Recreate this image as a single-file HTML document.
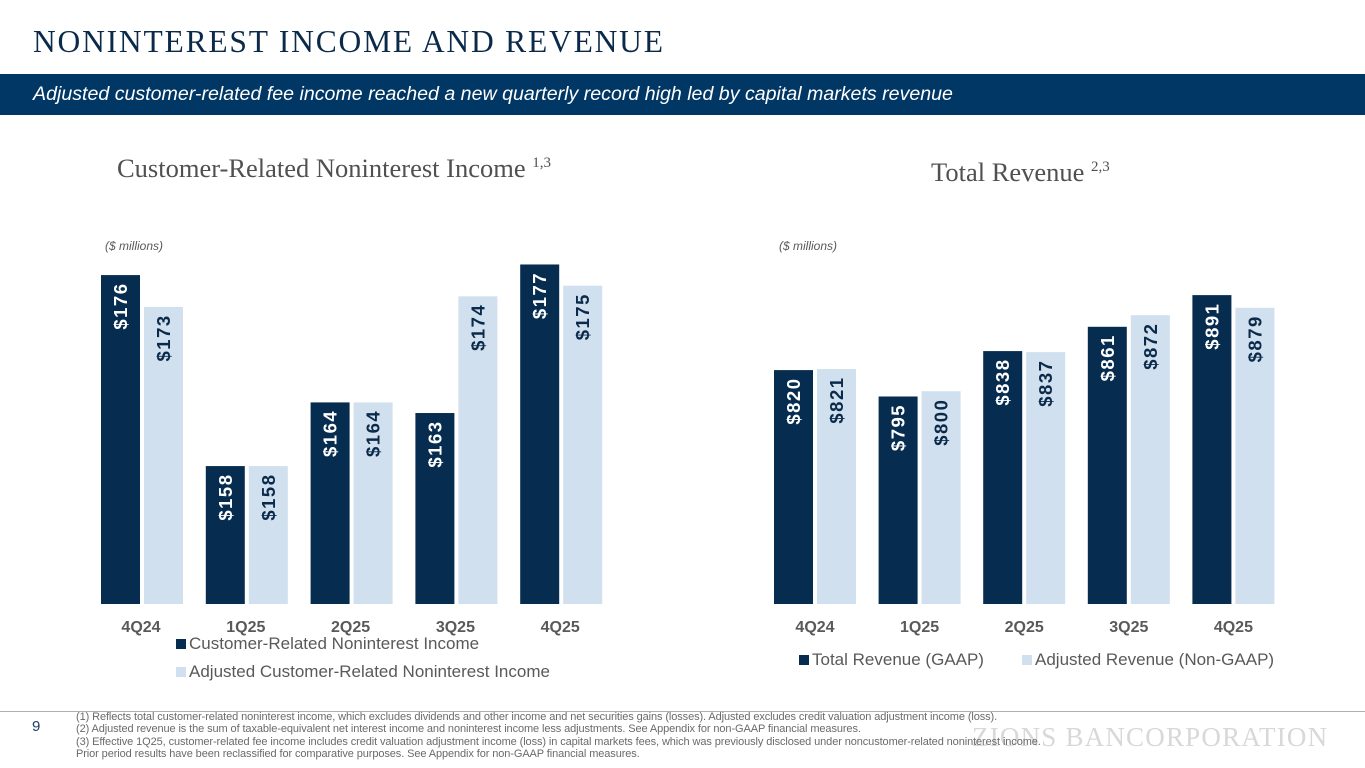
<!DOCTYPE html>
<html><head><meta charset="utf-8"><style>
body{margin:0;width:1365px;height:768px;overflow:hidden;background:#fff;font-family:"Liberation Sans",Arial,sans-serif;position:relative}
.abs{position:absolute}
#title{left:33px;top:24px;font-family:"Liberation Serif",serif;font-size:31.5px;color:#0b2a4a;letter-spacing:1.8px;white-space:nowrap}
#banner{left:0;top:74px;width:1365px;height:41px;background:#003764}
#banner span{position:absolute;left:33px;top:9px;color:#fff;font-style:italic;font-size:19.6px;white-space:nowrap}
.ct{font-family:"Liberation Serif",serif;font-size:26.5px;color:#505050;white-space:nowrap}
.ct sup{font-size:15px}
.unit{font-style:italic;font-size:12px;color:#595959}
#foot{left:0;top:711px;width:1365px;height:1px;background:#b0b0b0}
#pg{left:32px;top:718px;font-size:15px;color:#1f3d66}
#notes{left:76px;top:711px;font-size:11px;color:#6a6a6a;line-height:12.4px;white-space:nowrap;letter-spacing:-0.1px}
#logo{left:972px;top:722px;font-family:"Liberation Serif",serif;font-size:27px;color:#d8d8d8;letter-spacing:1.2px;white-space:nowrap}
svg{position:absolute;left:0;top:0}
</style></head><body>
<div id="title" class="abs">NONINTEREST INCOME AND REVENUE</div>
<div id="banner" class="abs"><span>Adjusted customer-related fee income reached a new quarterly record high led by capital markets revenue</span></div>
<div class="abs ct" style="left:117px;top:153px">Customer-Related Noninterest Income <sup>1,3</sup></div>
<div class="abs ct" style="left:931px;top:157px">Total Revenue <sup>2,3</sup></div>
<div class="abs unit" style="left:105px;top:239px">($ millions)</div>
<div class="abs unit" style="left:779px;top:239px">($ millions)</div>
<svg id="chart" width="1365" height="768"></svg>
<div id="foot" class="abs"></div>
<div id="pg" class="abs">9</div>
<div id="logo" class="abs">ZIONS BANCORPORATION</div>
<div id="notes" class="abs">(1) Reflects total customer-related noninterest income, which excludes dividends and other income and net securities gains (losses). Adjusted excludes credit valuation adjustment income (loss).<br>(2) Adjusted revenue is the sum of taxable-equivalent net interest income and noninterest income less adjustments. See Appendix for non-GAAP financial measures.<br>(3) Effective 1Q25, customer-related fee income includes credit valuation adjustment income (loss) in capital markets fees, which was previously disclosed under noncustomer-related noninterest income.<br>Prior period results have been reclassified for comparative purposes. See Appendix for non-GAAP financial measures.</div>
<script>
const categories=["4Q24","1Q25","2Q25","3Q25","4Q25"];
const feeIncome=[176,158,164,163,177];
const adjFeeIncome=[173,158,164,174,175];
const totalRevenue=[820,795,838,861,891];
const adjRevenue=[821,800,837,872,879];
const NS="http://www.w3.org/2000/svg";
const svg=document.getElementById('chart');
const DARK="#062c4f",LIGHT="#d0e0ee";
function mk(t,a){const e=document.createElementNS(NS,t);for(const k in a)e.setAttribute(k,a[k]);svg.appendChild(e);return e;}
function chart(x0,step,base,vmin,ppu,s1,s2,prefix,lblOff){
  const y=v=>base-(v-vmin)*ppu;
  categories.forEach((c,i)=>{
    const gx=x0+i*step;
    [[s1,DARK,"#fff",0],[s2,LIGHT,"#0b2a4a",43]].forEach(([s,col,tc,off],j)=>{
      const v=s[i],top=y(v);
      const r=mk('rect',{x:gx+off,y:top,width:39,height:base-top,fill:col});
      
      
      const cx=gx+off+19.5,cy=top+31;
      const t=mk('text',{x:cx,y:cy,transform:`rotate(-90 ${cx} ${cy})`,'text-anchor':'middle','dominant-baseline':'central',fill:tc,'font-size':18.5,'font-weight':'bold','letter-spacing':'1.5'});
      t.textContent='$'+v;
      
      
    });
    const l=mk('text',{x:gx+lblOff,y:632,'text-anchor':'middle',fill:'#595959','font-size':16,'font-weight':'bold'});
    l.textContent=c;
    
    
  });
}
chart(101,104.8,604,145,10.61,feeIncome,adjFeeIncome,'fee',40);
chart(774,104.6,604,598.5,1.056,totalRevenue,adjRevenue,'revenue',41);
function legend(x,y,col,txt,name,fs){
  const r=mk('rect',{x:x,y:y-10,width:10,height:10,fill:col});
  
  
  const t=mk('text',{x:x+13,y:y,fill:'#595959','font-size':fs});
  t.textContent=txt;
  
  
}
legend(176,649,DARK,'Customer-Related Noninterest Income','fee-legend-entry',17);
legend(176,677,LIGHT,'Adjusted Customer-Related Noninterest Income','adj-fee-legend-entry',17);
legend(799,665,DARK,'Total Revenue (GAAP)','revenue-legend-entry',17);
legend(1022,665,LIGHT,'Adjusted Revenue (Non-GAAP)','adj-revenue-legend-entry',17);
</script>
</body></html>
